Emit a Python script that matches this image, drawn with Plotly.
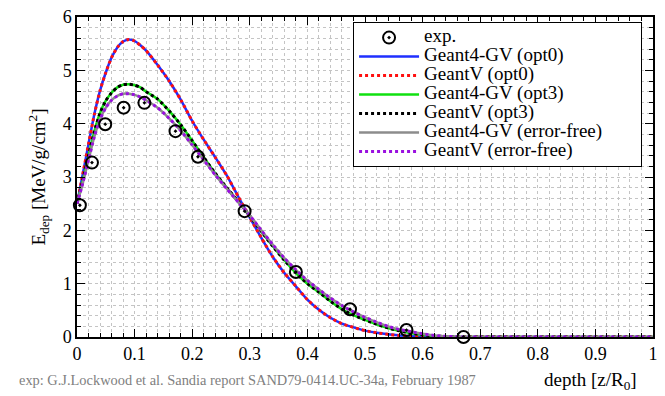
import plotly.graph_objects as go

# ---- data ----
depth = [0.0, 0.01, 0.02, 0.03, 0.04, 0.05, 0.06, 0.07, 0.08, 0.09, 0.10, 0.11, 0.12,
         0.14, 0.16, 0.18, 0.20, 0.22, 0.24, 0.26, 0.28, 0.30, 0.32, 0.34, 0.36, 0.38,
         0.40, 0.42, 0.44, 0.46, 0.48, 0.50, 0.52, 0.54, 0.56, 0.58, 0.60, 0.62, 0.64,
         0.66, 0.68, 0.70, 0.80, 0.90, 1.00]

edep_opt0 = [2.50, 3.05, 3.62, 4.17, 4.62, 4.96, 5.24, 5.43, 5.54, 5.58, 5.55, 5.47, 5.37,
             5.10, 4.80, 4.45, 4.05, 3.70, 3.37, 3.03, 2.63, 2.24, 1.86, 1.50, 1.20, 0.95,
             0.70, 0.51, 0.36, 0.25, 0.18, 0.12, 0.08, 0.05, 0.03, 0.015, 0.006, 0.002, 0.0,
             0.0, 0.0, 0.0, 0.0, 0.0, 0.0]

edep_opt3 = [2.50, 2.93, 3.40, 3.85, 4.20, 4.43, 4.58, 4.68, 4.73, 4.74, 4.72, 4.68, 4.60,
             4.46, 4.24, 3.98, 3.68, 3.37, 3.07, 2.80, 2.54, 2.27, 1.98, 1.70, 1.44, 1.20,
             1.00, 0.84, 0.67, 0.52, 0.41, 0.32, 0.24, 0.17, 0.115, 0.07, 0.04, 0.02, 0.008,
             0.002, 0.0, 0.0, 0.0, 0.0, 0.0]

edep_errfree = [2.50, 2.88, 3.32, 3.75, 4.08, 4.30, 4.44, 4.52, 4.56, 4.56, 4.54, 4.50, 4.44,
                4.30, 4.10, 3.87, 3.60, 3.32, 3.04, 2.78, 2.53, 2.28, 2.00, 1.73, 1.48, 1.26,
                1.06, 0.89, 0.73, 0.59, 0.47, 0.37, 0.28, 0.20, 0.14, 0.10, 0.06, 0.03, 0.012,
                0.004, 0.0, 0.0, 0.0, 0.0, 0.0]

exp_depth = [0.005, 0.026, 0.049, 0.081, 0.117, 0.171, 0.21, 0.291, 0.38, 0.474, 0.572, 0.671]
exp_edep = [2.47, 3.27, 3.99, 4.30, 4.39, 3.86, 3.38, 2.36, 1.22, 0.52, 0.13, 0.0]

x_tickvals = [0, 0.1, 0.2, 0.3, 0.4, 0.5, 0.6, 0.7, 0.8, 0.9, 1.0]
x_ticktext = ["0", "0.1", "0.2", "0.3", "0.4", "0.5", "0.6", "0.7", "0.8", "0.9", "1"]
y_tickvals = [0, 1, 2, 3, 4, 5, 6]

FONT = "Liberation Serif, Times New Roman, serif"


def big(s, pad=0):
    return '<span style="font-size:19px">' + s + '&nbsp;' * pad + '</span>'


fig = go.Figure()

series = [
    ("Geant4-GV (opt0)", edep_opt0, "#1f2fff", "solid", 2.5, 0),
    ("GeantV (opt0)", edep_opt0, "#ff1010", "dot", 3, 0),
    ("Geant4-GV (opt3)", edep_opt3, "#10e010", "solid", 2.5, 0),
    ("GeantV (opt3)", edep_opt3, "black", "dot", 3, 0),
    ("Geant4-GV (error-free)", edep_errfree, "#8c8c8c", "solid", 2.5, 7),
    ("GeantV (error-free)", edep_errfree, "#9a10e0", "dot", 3, 0),
]
for i, (name, ys, col, dash, w, pad) in enumerate(series):
    fig.add_trace(go.Scatter(
        x=depth, y=ys, mode="lines", name=big(name, pad), legendrank=10 + i,
        line=dict(color=col, dash=dash, width=w, shape="spline", smoothing=0.6)))

fig.add_trace(go.Scatter(
    x=exp_depth, y=exp_edep, mode="markers", name=big("exp."), legendrank=1,
    marker=dict(symbol="circle-open-dot", size=12, color="black",
                line=dict(width=2, color="black")),
    cliponaxis=False))

grid_col = "#c4c4c4"
common = dict(
    showline=True, linecolor="black", linewidth=1.5, mirror="allticks",
    ticks="inside", ticklen=8, tickwidth=1, tickcolor="black",
    showgrid=True, gridcolor=grid_col, griddash="dot", gridwidth=1,
    zeroline=False,
    tickfont=dict(family=FONT, size=18, color="black"),
)

fig.update_xaxes(
    range=[0, 1], tickmode="array", tickvals=x_tickvals, ticktext=x_ticktext,
    tickangle=0,
    minor=dict(dtick=0.02, tick0=0, ticks="inside", ticklen=4, tickcolor="black",
               showgrid=True, gridcolor=grid_col, griddash="dot", gridwidth=1),
    **common)
fig.update_yaxes(
    range=[0, 6], tickmode="array", tickvals=y_tickvals,
    minor=dict(dtick=0.2, tick0=0, ticks="inside", ticklen=4, tickcolor="black",
               showgrid=True, gridcolor=grid_col, griddash="dot", gridwidth=1),
    title=dict(text="E<sub>dep</sub> [MeV/g/cm<sup>2</sup>]",
               font=dict(family=FONT, size=19, color="black"), standoff=12),
    **common)

fig.add_annotation(
    text="depth [z/R<sub>0</sub>]", xref="paper", yref="paper", x=0.975, y=-0.138,
    xanchor="right", yanchor="middle", showarrow=False,
    font=dict(family=FONT, size=19, color="black"))
fig.add_annotation(
    text="exp: G.J.Lockwood et al. Sandia report SAND79-0414.UC-34a, February 1987",
    xref="paper", yref="paper", x=-0.105, y=-0.135, xanchor="left", yanchor="middle",
    showarrow=False, font=dict(family=FONT, size=14.4, color="#808080"))

fig.update_layout(
    width=665, height=396,
    margin=dict(l=77, r=7, t=12, b=59),
    paper_bgcolor="white", plot_bgcolor="white",
    font=dict(family=FONT, color="black"),
    legend=dict(
        x=0.981, y=0.984, xanchor="right", yanchor="top",
        bordercolor="black", borderwidth=1, bgcolor="white",
        font=dict(family=FONT, size=12, color="black"),
        tracegroupgap=0, itemwidth=60),
    showlegend=True,
)

fig.write_html("out.html")
